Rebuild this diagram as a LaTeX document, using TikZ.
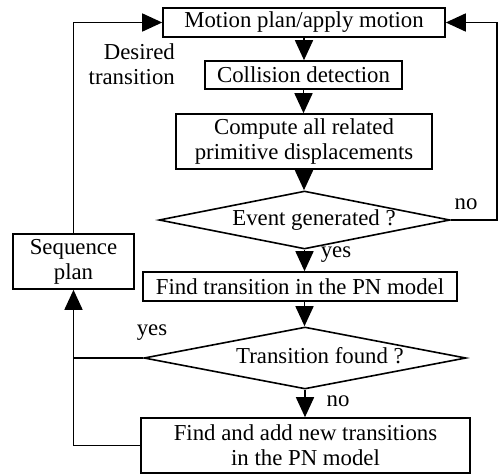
\documentclass[tikz,border=0pt]{standalone}
\usepackage{fontspec}
\setmainfont{Liberation Serif}
\usetikzlibrary{arrows.meta,shapes.geometric}
\begin{document}
\begin{tikzpicture}[x=1pt,y=-1pt,
  every node/.style={font=\fontsize{22.8}{25}\selectfont},
  box/.style={draw, line width=1.6pt, inner sep=0pt, align=center},
  dia/.style={draw, line width=1.6pt, shape=diamond, aspect=5, inner sep=0pt},
  lbl/.style={inner sep=0pt, align=center},
  conn/.style={line width=1.6pt},
  arr/.style={conn, -{Triangle[length=20pt,width=18pt]}}]
\useasboundingbox (0,0) rectangle (502,474);
\node[box, minimum width=282pt, minimum height=29pt] (mp) at (304,22.5) {Motion plan/apply motion};
\node[box, minimum width=197pt, minimum height=28pt] (cd) at (303.5,75) {Collision detection};
\node[box, minimum width=256pt, minimum height=55pt] (cp) at (304,141.5) {Compute all related\\primitive displacements};
\node[dia, minimum width=291pt, minimum height=58pt] (d1) at (304.5,220) {};
\node[lbl] (d1t) at (314,220) {Event generated ?};
\node[box, minimum width=314pt, minimum height=29pt] (ft) at (300,286.5) {Find transition in the PN model};
\node[dia, minimum width=322pt, minimum height=62pt] (d2) at (305,358) {};
\node[lbl] (d2t) at (320,356) {Transition found ?};
\node[box, minimum width=329pt, minimum height=55pt] (fa) at (305.5,445.5) {Find and add new transitions\\in the PN model};
\node[box, minimum width=121pt, minimum height=55pt] (sp) at (73.5,261.5) {Sequence\\plan};
\node[lbl, align=right, anchor=east] (dt) at (175,64) {Desired\\transition};
\node[lbl] (no1) at (466,204) {no};
\node[lbl] (yes1) at (336,255) {yes};
\node[lbl] (yes2) at (152,333) {yes};
\node[lbl] (no2) at (338,401) {no};
\coordinate (jl) at (73.5,358);
\draw[arr] (mp.south) -- (mp.south |- cd.north);
\draw[arr] (cd.south) -- (cd.south |- cp.north);
\draw[arr] (cp.south) -- (cp.south |- d1.north);
\draw[arr] (d1.south) -- (d1.south |- ft.north);
\draw[arr] (d1.south |- ft.south) -- (d1.south |- d2.north);
\draw[arr] (d2.south) -- (d2.south |- fa.north);
\draw[arr] (sp.north) |- (mp.west);
\draw[arr] (d1.east) -- (497,220) |- (mp.east);
\draw[conn] (d2.west) -- (jl);
\draw[arr] (fa.west) -| (sp.south);
\end{tikzpicture}
\end{document}
